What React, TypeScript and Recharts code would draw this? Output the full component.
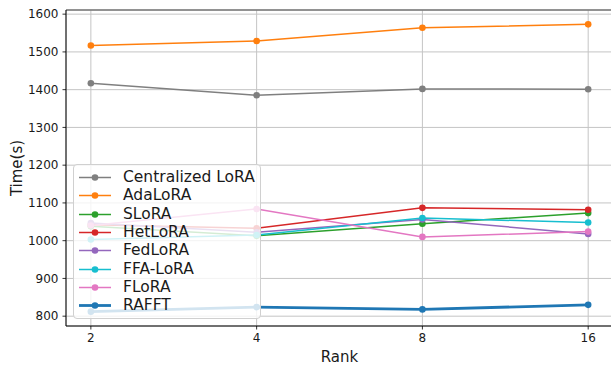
import { LineChart, Line, CartesianGrid, XAxis, YAxis, ReferenceLine } from 'recharts';

const ranks = [2, 4, 8, 16];
const minorRanks = [3, 5, 6, 7, 9];
const yTicks = [800, 900, 1000, 1100, 1200, 1300, 1400, 1500, 1600];

const centralizedLoRA = [1417, 1385, 1402, 1401];
const adaLoRA = [1517, 1529, 1564, 1573];
const sLoRA = [1038, 1013, 1045, 1073];
const hetLoRA = [1042, 1033, 1087, 1082];
const fedLoRA = [1047, 1022, 1056, 1018];
const ffaLoRA = [1003, 1015, 1060, 1048];
const fLoRA = [1040, 1084, 1010, 1024];
const rafft = [812, 824, 818, 830];

const series = [
  { key: 'central', name: 'Centralized LoRA', color: '#7f7f7f', values: centralizedLoRA, width: 1.5 },
  { key: 'ada', name: 'AdaLoRA', color: '#ff7f0e', values: adaLoRA, width: 1.5 },
  { key: 'slora', name: 'SLoRA', color: '#2ca02c', values: sLoRA, width: 1.5 },
  { key: 'het', name: 'HetLoRA', color: '#d62728', values: hetLoRA, width: 1.5 },
  { key: 'fed', name: 'FedLoRA', color: '#9467bd', values: fedLoRA, width: 1.5 },
  { key: 'ffa', name: 'FFA-LoRA', color: '#17becf', values: ffaLoRA, width: 1.5 },
  { key: 'flora', name: 'FLoRA', color: '#e377c2', values: fLoRA, width: 1.5 },
  { key: 'rafft', name: 'RAFFT', color: '#1f77b4', values: rafft, width: 2.8 },
];

const chartData = ranks.map((rank, i) => {
  const row: Record<string, number> = { rank };
  series.forEach((s) => {
    row[s.key] = s.values[i];
  });
  return row;
});

const FONT = '"DejaVu Sans", sans-serif';
const tickStyle = { fontSize: 12, fill: '#1a1a1a', fontFamily: FONT };

function ChartLegend() {
  return (
    <div
      style={{
        position: 'absolute',
        left: 73,
        top: 164,
        width: 188,
        height: 155,
        boxSizing: 'border-box',
        background: 'rgba(255,255,255,0.8)',
        border: '1px solid #d0d0d0',
        borderRadius: 4,
        fontFamily: FONT,
        fontSize: 15.5,
        color: '#1a1a1a',
      }}
    >
      {series.map((s, i) => (
        <div
          key={s.key}
          style={{
            position: 'absolute',
            left: 4,
            top: 3 + i * 18.3,
            height: 18,
            lineHeight: '18px',
            whiteSpace: 'nowrap',
          }}
        >
          <svg width={34} height={18} style={{ position: 'absolute', left: 0, top: 0 }}>
            <line x1={1} x2={33} y1={9.5} y2={9.5} stroke={s.color} strokeWidth={s.width} />
            <circle cx={17} cy={9.5} r={3.3} fill={s.color} />
          </svg>
          <span style={{ position: 'absolute', left: 45, top: 0 }}>{s.name}</span>
        </div>
      ))}
    </div>
  );
}

export default function App() {
  return (
    <div
      style={{
        position: 'absolute',
        left: 0,
        top: 0,
        width: 611,
        height: 369,
        overflow: 'hidden',
        background: '#fff',
      }}
    >
      <LineChart
        width={615}
        height={369}
        data={chartData}
        margin={{ top: 10, right: 2, left: 0, bottom: 0 }}
      >
        <CartesianGrid stroke="#c4c4c4" strokeWidth={1} />
        <XAxis
          xAxisId="minor"
          dataKey="rank"
          type="number"
          scale="log"
          domain={[1.8025, 17.75]}
          ticks={minorRanks}
          height={0}
          axisLine={false}
          tickSize={2.5}
          tickLine={{ stroke: '#000', strokeWidth: 0.8 }}
          tickFormatter={() => ''}
          allowDataOverflow
        />
        <XAxis
          dataKey="rank"
          type="number"
          scale="log"
          domain={[1.8025, 17.75]}
          ticks={ranks}
          height={43}
          tickSize={3.5}
          tickMargin={4}
          tick={tickStyle}
          axisLine={{ stroke: '#000', strokeWidth: 1 }}
          tickLine={{ stroke: '#000', strokeWidth: 0.8 }}
          allowDataOverflow
          label={{
            content: () => (
              <text
                x={339.5}
                y={361.5}
                textAnchor="middle"
                fontSize={15}
                fontFamily={FONT}
                fill="#1a1a1a"
              >
                Rank
              </text>
            ),
          }}
        />
        <YAxis
          type="number"
          domain={[774, 1611]}
          ticks={yTicks}
          width={66}
          tickSize={3.5}
          tickMargin={4}
          tick={tickStyle}
          axisLine={{ stroke: '#000', strokeWidth: 1 }}
          tickLine={{ stroke: '#000', strokeWidth: 0.8 }}
          allowDataOverflow
          label={{
            content: () => (
              <text
                x={22}
                y={168}
                transform="rotate(-90 22 168)"
                textAnchor="middle"
                fontSize={15}
                fontFamily={FONT}
                fill="#1a1a1a"
              >
                Time(s)
              </text>
            ),
          }}
        />
        <ReferenceLine y={1611} stroke="#777" strokeWidth={1.5} />
        {series.map((s) => (
          <Line
            key={s.key}
            dataKey={s.key}
            name={s.name}
            stroke={s.color}
            strokeWidth={s.width}
            dot={{ r: 3.3, fill: s.color, stroke: s.color, strokeWidth: 0 }}
            activeDot={false}
            isAnimationActive={false}
          />
        ))}
      </LineChart>
      <ChartLegend />
    </div>
  );
}
